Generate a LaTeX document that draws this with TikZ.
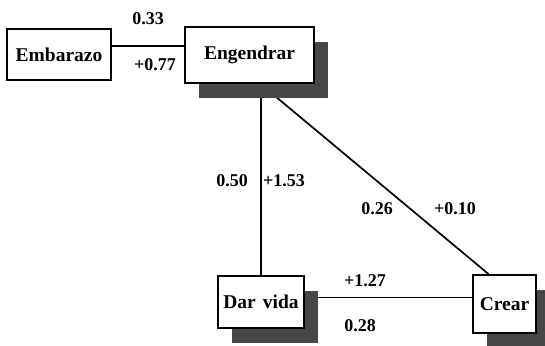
\documentclass[tikz,border=0pt]{standalone}
\usepackage{fontspec}
\setmainfont{Liberation Serif}
\usetikzlibrary{shadows,backgrounds}
\tikzset{
  box/.style={draw, line width=1.9pt, fill=white, font=\fontsize{19.5}{22}\selectfont\bfseries},
  boxshadow/.style={box, drop shadow={shadow xshift=14pt, shadow yshift=-15pt, fill=black!72, opacity=1}},
  lbl/.style={font=\fontsize{18}{20}\selectfont\bfseries},
  link/.style={line width=1.7pt}
}

\begin{document}
\begin{tikzpicture}[x=1pt, y=-1pt]
			%%%%% START %%%%%
			\useasboundingbox (0, 0) rectangle (545, 345);
			
			\node[box, minimum width=104pt, minimum height=51pt] (emb) at (59, 54.5) {Embarazo};
			\node[boxshadow, minimum width=129pt, minimum height=56pt] (eng) at (249.5, 55) {Engendrar};
			\node[boxshadow, minimum width=86pt, minimum height=52pt] (dar) at (261, 302) {Dar\hspace{7pt}vida};
			\node[boxshadow, minimum width=63pt, minimum height=58pt] (crear) at (504.5, 304) {Crear};
			
			\begin{pgfonlayer}{background}
			\draw[link] ([yshift=8.5pt]emb.east) -- ([yshift=8.5pt]emb.east -| eng.west);
			\draw[link] (dar.north |- eng.south) -- (dar.north);
			\draw[link] ([xshift=11pt]eng.south) -- ([xshift=-16pt]crear.north);
			\draw[link] ([yshift=4.5pt]dar.east) -- ([yshift=4.5pt]dar.east -| crear.west);
			\end{pgfonlayer}
			
			\node[lbl] (w33) at (148, 19) {0.33};
			\node[lbl] (w77) at (155, 65) {+0.77};
			\node[lbl] (w50) at (232, 181) {0.50};
			\node[lbl] (w153) at (284, 181) {+1.53};
			\node[lbl] (w26) at (377, 209) {0.26};
			\node[lbl] (w10) at (455, 209) {+0.10};
			\node[lbl] (w127) at (365, 281) {+1.27};
			\node[lbl] (w28) at (360, 326) {0.28};
			
			%%%%% END %%%%%
\end{tikzpicture}
\end{document}
